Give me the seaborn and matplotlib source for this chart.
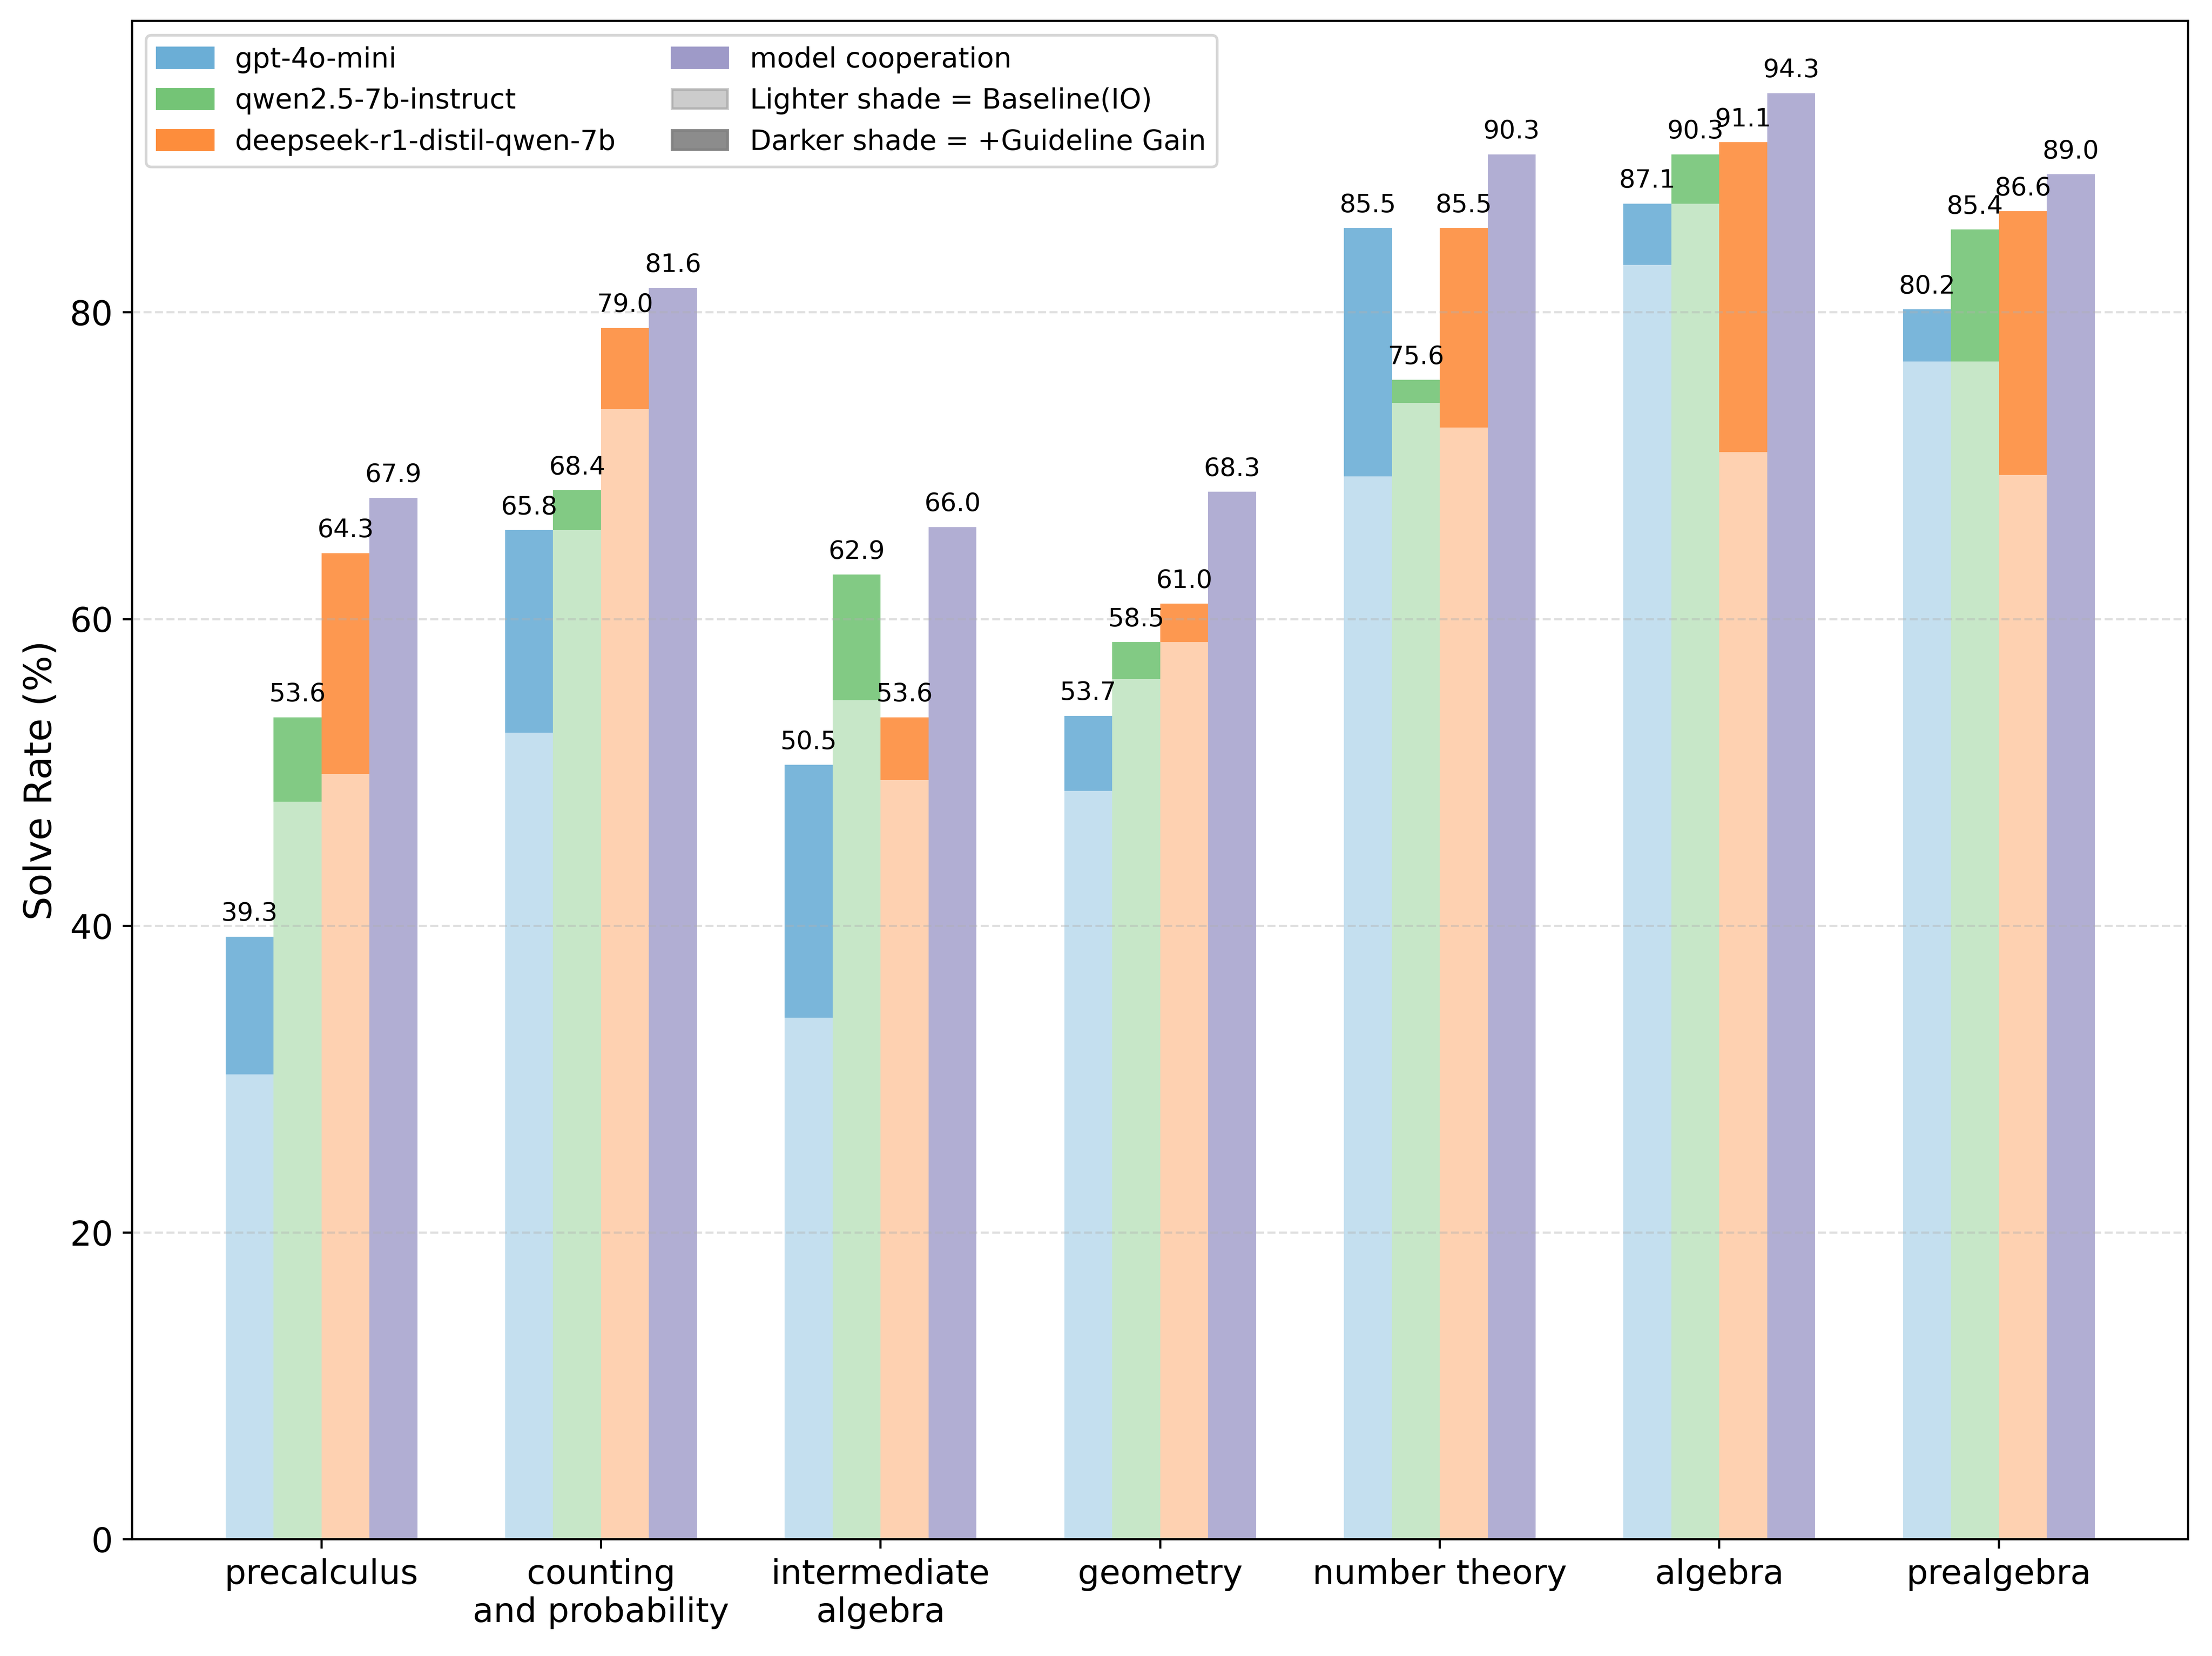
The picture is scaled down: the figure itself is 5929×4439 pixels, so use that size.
import numpy as np
import pandas as pd
import matplotlib
matplotlib.use("Agg")
import matplotlib.pyplot as plt
from matplotlib.patches import Patch
import seaborn as sns

# categories and solve rates (%)
categories = ['precalculus', 'counting\nand probability', 'intermediate\nalgebra',
              'geometry', 'number theory', 'algebra', 'prealgebra']
models = ['gpt-4o-mini', 'qwen2.5-7b-instruct', 'deepseek-r1-distil-qwen-7b', 'model cooperation']

gpt_base = [30.3, 52.6, 34.0, 48.8, 69.3, 83.1, 76.8]
gpt_final = [39.3, 65.8, 50.5, 53.7, 85.5, 87.1, 80.2]
qwen_base = [48.1, 65.8, 54.7, 56.1, 74.1, 87.1, 76.8]
qwen_final = [53.6, 68.4, 62.9, 58.5, 75.6, 90.3, 85.4]
ds_base = [49.9, 73.7, 49.5, 58.5, 72.5, 70.9, 69.4]
ds_final = [64.3, 79.0, 53.6, 61.0, 85.5, 91.1, 86.6]
coop = [67.9, 81.6, 66.0, 68.3, 90.3, 94.3, 89.0]

base_colors = {
    'gpt-4o-mini': '#6baed6',
    'qwen2.5-7b-instruct': '#74c476',
    'deepseek-r1-distil-qwen-7b': '#fd8d3c',
    'model cooperation': '#9e9ac8',
}


def blend(color, alpha):
    """Flatten a transparent colour onto white."""
    rgb = np.array(matplotlib.colors.to_rgb(color))
    return tuple(rgb * alpha + (1 - alpha))


dark = {m: blend(c, 0.9) for m, c in base_colors.items()}
dark['model cooperation'] = blend(base_colors['model cooperation'], 0.8)
light = {m: blend(c, 0.4) for m, c in base_colors.items()}

df_final = pd.DataFrame({
    'category': categories * 4,
    'model': np.repeat(models, len(categories)),
    'value': gpt_final + qwen_final + ds_final + coop,
})
df_base = pd.DataFrame({
    'category': categories * 3,
    'model': np.repeat(models[:3], len(categories)),
    'value': gpt_base + qwen_base + ds_base,
})

plt.rcParams['font.family'] = ['DejaVu Sans']
dpi = 522
fig = plt.figure(figsize=(5929.4 / dpi, 4439.4 / dpi), dpi=dpi)
ax = fig.add_axes([0.0597, 0.0705, 0.9295, 0.9167])

group_width = 0.686
sns.barplot(data=df_final, x='category', y='value', hue='model', order=categories,
            hue_order=models, palette=dark, width=group_width, saturation=1,
            errorbar=None, linewidth=0, edgecolor='none', legend=False, ax=ax)
final_bars = list(ax.containers)
sns.barplot(data=df_base, x='category', y='value', hue='model', order=categories,
            hue_order=models, palette=light, width=group_width, saturation=1,
            errorbar=None, linewidth=0, edgecolor='none', legend=False, ax=ax)

for cont in final_bars:
    ax.bar_label(cont, fmt='%.1f', padding=4, fontsize=9.4)

margin = 0.05 * (len(categories) - 1 + group_width)
ax.set_xlim(-group_width / 2 - margin, len(categories) - 1 + group_width / 2 + margin)
ax.set_ylim(0, 99.0)
ax.set_yticks([0, 20, 40, 60, 80])
ax.set_xlabel('')
ax.set_ylabel('Solve Rate (%)', fontsize=14)
ax.tick_params(axis='both', labelsize=12.6)
ax.grid(axis='y', linestyle='--', alpha=0.4)

handles = [Patch(color=base_colors[m], label=m) for m in models[:3]]
handles += [Patch(color=base_colors['model cooperation'], label='model cooperation'),
            Patch(color='gray', alpha=0.4, label='Lighter shade = Baseline(IO)'),
            Patch(color='gray', alpha=0.9, label='Darker shade = +Guideline Gain')]
ax.legend(handles=handles, loc='upper left', ncol=2, fontsize=10.3)

fig.savefig('out.png', dpi=dpi)
plt.close(fig)
